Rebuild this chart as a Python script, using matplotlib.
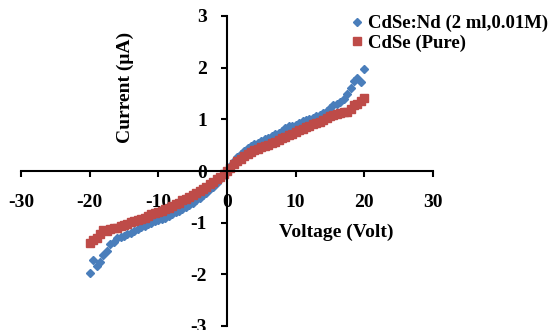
import matplotlib
matplotlib.use("Agg")
import matplotlib.pyplot as plt

# Voltage sweep (V)
voltage = [v * 0.5 for v in range(-40, 41)]

# CdSe:Nd (2 ml, 0.01M) current (uA)
current_nd = [
    -1.98, -1.73, -1.83, -1.76, -1.62, -1.55, -1.42, -1.37, -1.30, -1.28,
    -1.25, -1.22, -1.20, -1.16, -1.13, -1.08, -1.06, -1.03, -1.00, -0.97,
    -0.95, -0.93, -0.90, -0.87, -0.84, -0.80, -0.78, -0.74, -0.70, -0.66,
    -0.62, -0.56, -0.52, -0.47, -0.42, -0.35, -0.30, -0.23, -0.16, -0.08,
    0.00,
    0.10, 0.20, 0.27, 0.33, 0.38, 0.44, 0.48, 0.53, 0.55, 0.58,
    0.62, 0.64, 0.67, 0.72, 0.74, 0.78, 0.84, 0.88, 0.87, 0.90,
    0.93, 0.97, 0.99, 1.00, 1.03, 1.06, 1.09, 1.12, 1.16, 1.22,
    1.27, 1.30, 1.34, 1.40, 1.50, 1.60, 1.75, 1.80, 1.72, 1.98,
]

# CdSe (pure) current (uA)
current_pure = [
    -1.40, -1.33, -1.30, -1.22, -1.15, -1.16, -1.13, -1.11, -1.10, -1.07,
    -1.05, -1.02, -0.99, -0.97, -0.95, -0.92, -0.90, -0.87, -0.84, -0.82,
    -0.80, -0.77, -0.74, -0.71, -0.68, -0.64, -0.61, -0.57, -0.54, -0.50,
    -0.47, -0.43, -0.39, -0.35, -0.31, -0.26, -0.21, -0.16, -0.11, -0.05,
    0.00,
    0.06, 0.13, 0.19, 0.24, 0.29, 0.33, 0.37, 0.40, 0.43, 0.46,
    0.49, 0.51, 0.54, 0.57, 0.60, 0.63, 0.66, 0.69, 0.72, 0.76,
    0.80, 0.82, 0.85, 0.88, 0.91, 0.93, 0.95, 0.99, 1.02, 1.06,
    1.09, 1.10, 1.12, 1.14, 1.15, 1.20, 1.28, 1.30, 1.35, 1.42,
]

x_ticks = [-30, -20, -10, 0, 10, 20, 30]
y_ticks = [-3, -2, -1, 0, 1, 2, 3]

plt.rcParams['font.family'] = ['Liberation Serif', 'DejaVu Serif']
plt.rcParams['font.weight'] = 'bold'
plt.rcParams['font.size'] = 14
plt.rcParams['axes.unicode_minus'] = False

fig = plt.figure(figsize=(5.52, 3.30), dpi=100)
ax = fig.add_axes([21 / 552, 4 / 330, 412 / 552, 310 / 330])

ax.plot(voltage, current_nd, linestyle='none', marker='D', markersize=4.2,
        color='#4A7EBB', label='CdSe:Nd (2 ml,0.01M)')
ax.plot(voltage, current_pure, linestyle='none', marker='s', markersize=5.5,
        color='#BE4B48', label='CdSe (Pure)')

ax.set_xlim(-30, 30)
ax.set_ylim(-3, 3)
ax.set_xticks(x_ticks)
ax.set_yticks(y_ticks)

# axes crossing at the origin
ax.spines['left'].set_position(('data', 0))
ax.spines['bottom'].set_position(('data', 0))
ax.spines['top'].set_visible(False)
ax.spines['right'].set_visible(False)
for s in ['left', 'bottom']:
    ax.spines[s].set_linewidth(1.5)
ax.tick_params(axis='x', direction='out', length=4.5, width=1.5, pad=12)
ax.tick_params(axis='y', direction='out', length=4.5, width=1.5, pad=10)
for lbl in ax.get_xticklabels() + ax.get_yticklabels():
    lbl.set_fontweight('bold')

fig.text(125 / 552, 1 - 87 / 330, 'Current (μA)', rotation=90,
         ha='center', va='center', fontsize=14, fontweight='bold')
fig.text(336 / 552, 1 - 232 / 330, 'Voltage (Volt)',
         ha='center', va='center', fontsize=14, fontweight='bold')

fig.legend(loc='upper left', bbox_to_anchor=(349 / 552, 1 - 15 / 330),
           frameon=False, handlelength=0.8, handletextpad=0.2,
           labelspacing=0.1, borderpad=0, borderaxespad=0,
           prop={'weight': 'bold', 'size': 13.5})

fig.savefig('out.png', dpi=100)
